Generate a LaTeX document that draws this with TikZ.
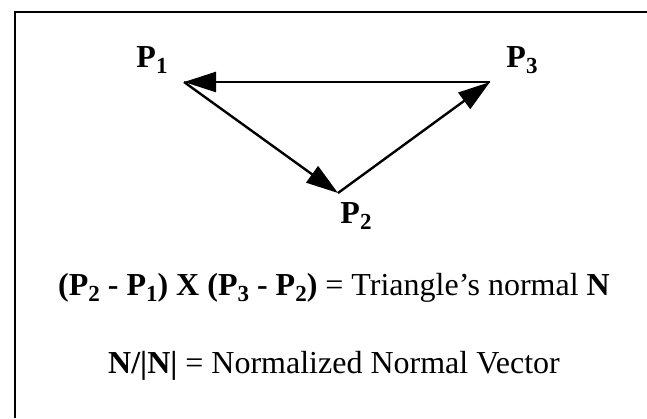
\documentclass[tikz,border=0pt]{standalone}
\usepackage{fontspec}
\setmainfont{Liberation Serif}
\usetikzlibrary{arrows.meta}
\newcommand\pnt[1]{P\raisebox{-3pt}{\fontsize{11.5}{12}\selectfont #1}}
\tikzset{
  edge/.style={line width=1.2pt, -{Triangle[length=16pt, width=10pt]}},
  lbl/.style={font=\fontsize{16}{19}\selectfont\bfseries, inner sep=0pt, anchor=base},
  eqn/.style={font=\fontsize{16}{19}\selectfont, inner sep=0pt, anchor=base}
}

\begin{document}
\begin{tikzpicture}[x=0.5pt, y=-0.5pt]
  \useasboundingbox (0,0) rectangle (647,418);
  % frame (cut off at the right and bottom)
  \draw[line width=1.2pt] (15,418) -- (15,12) -- (647,12);

  % triangle corners
  \coordinate (p1) at (184,82);
  \coordinate (p2) at (338,193);
  \coordinate (p3) at (490,82);

  \node[lbl] (l1) at (152,67) {\pnt{1}};
  \node[lbl] (l3) at (522,67) {\pnt{3}};
  \node[lbl] (l2) at (356,223) {\pnt{2}};

  \draw[edge] (p3) -- (p1);
  \draw[edge] (p1) -- (p2);
  \draw[edge] (p2) -- (p3);

  \node[eqn] (cross) at (334,295)
    {\textbf{(\pnt{2} - \pnt{1}) X (\pnt{3} - \pnt{2})} = Triangle's normal \textbf{N}};
  \node[eqn] (norm) at (334,373)
    {\textbf{N/|N|} = Normalized Normal Vector};
\end{tikzpicture}
\end{document}
